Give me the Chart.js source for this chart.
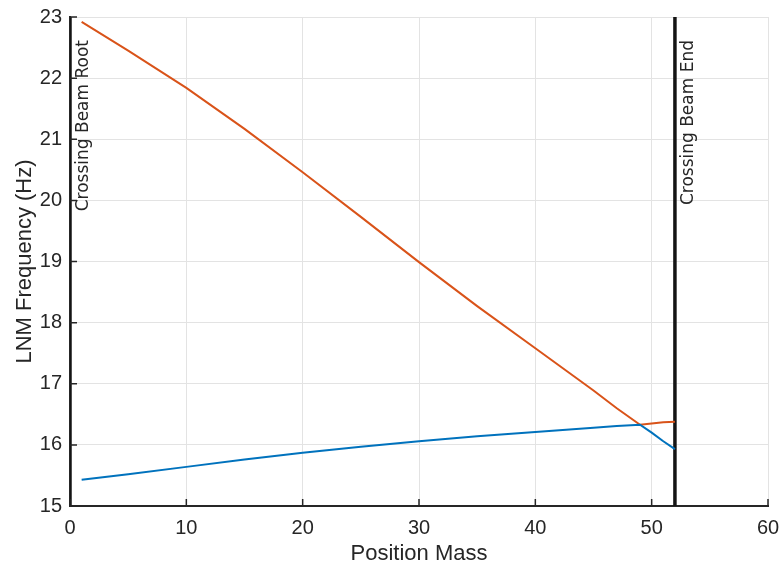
<!DOCTYPE html>
<html>
<head>
<meta charset="utf-8">
<script src="https://cdn.jsdelivr.net/npm/chart.js@4"></script>
<style>
  html, body { margin: 0; padding: 0; background: #fff; }
  #wrap { width: 779px; height: 567px; }
</style>
</head>
<body>
<div id="wrap"><canvas id="lnm"></canvas></div>
<script>
// positions along the beam (mass index)
var positions = [1, 5, 10, 15, 20, 25, 30, 35, 40, 45, 47, 49, 50, 51, 52];
// mode 1 (orange) and mode 2 (blue), Hz
var modeA = [22.92, 22.45, 21.84, 21.17, 20.46, 19.73, 18.99, 18.27, 17.58, 16.89, 16.60, 16.33, 16.35, 16.37, 16.38];
var modeB = [15.43, 15.52, 15.64, 15.76, 15.87, 15.97, 16.06, 16.14, 16.21, 16.28, 16.31, 16.33, 16.20, 16.06, 15.93];
// crossing beam markers
var markerX = [0, 52];
var markerLabels = ["Crossing Beam Root", "Crossing Beam End"];
var yRange = [15, 23];
var xRange = [0, 60];

function pts(xs, ys) {
    return xs.map((x, i) => ({ x: x, y: ys[i] }));
}

var datasets = [
    { data: pts(positions, modeB), borderColor: "#0072BD", borderWidth: 2 },
    { data: pts(positions, modeA), borderColor: "#D95319", borderWidth: 2 }
];
markerX.forEach((mx) => {
    datasets.push({ data: pts([mx, mx], yRange), borderColor: "#141414", borderWidth: 3.5 });
});

// labels next to the vertical lines + inward tick marks
var annotate = {
    id: "annotate",
    afterDatasetsDraw(chart) {
        var ctx = chart.ctx;
        var xs = chart.scales.x, ys = chart.scales.y;
        ctx.save();
        ctx.fillStyle = "#262626";
        ctx.font = "17px 'DejaVu Sans'";
        ctx.textAlign = "right";
        ctx.textBaseline = "top";
        markerX.forEach((mx, i) => {
            ctx.save();
            ctx.translate(xs.getPixelForValue(mx) + 5, ys.getPixelForValue(yRange[1]) + 23);
            ctx.rotate(-Math.PI / 2);
            ctx.fillText(markerLabels[i], 0, 0);
            ctx.restore();
        });
        ctx.strokeStyle = "#262626";
        ctx.lineWidth = 1.5;
        ctx.beginPath();
        xs.ticks.forEach((t) => {
            var px = xs.getPixelForValue(t.value);
            ctx.moveTo(px, ys.bottom);
            ctx.lineTo(px, ys.bottom - 7);
        });
        ys.ticks.forEach((t) => {
            var py = ys.getPixelForValue(t.value);
            ctx.moveTo(xs.left, py);
            ctx.lineTo(xs.left + 7, py);
        });
        ctx.stroke();
        ctx.restore();
    }
};

new Chart(document.getElementById("lnm").getContext("2d"), {
    type: "line",
    data: { datasets: datasets },
    plugins: [annotate],
    options: {
        responsive: true,
        maintainAspectRatio: false,
        animation: false,
        layout: { padding: { top: 17, right: 11, left: 0, bottom: 0 } },
        elements: { point: { radius: 0 }, line: { tension: 0 } },
        plugins: {
            legend: { display: false },
            tooltip: { enabled: false }
        },
        scales: {
            x: {
                type: "linear",
                min: xRange[0],
                max: xRange[1],
                ticks: {
                    stepSize: 10,
                    color: "#262626",
                    padding: 10,
                    font: { family: "'Liberation Sans', Arial", size: 20 }
                },
                grid: { color: "#e3e3e3", drawTicks: false },
                border: { color: "#262626", width: 2 },
                title: {
                    display: true,
                    text: "Position Mass",
                    color: "#262626",
                    padding: { top: 0, bottom: 0 },
                    font: { family: "'Liberation Sans', Arial", size: 22 }
                },
                afterFit(scale) {
                    scale.height = 61;
                    scale.paddingLeft = 0;
                    scale.paddingRight = 0;
                }
            },
            y: {
                min: yRange[0],
                max: yRange[1],
                ticks: {
                    stepSize: 1,
                    color: "#262626",
                    padding: 8,
                    font: { family: "'Liberation Sans', Arial", size: 20 }
                },
                grid: { color: "#e3e3e3", drawTicks: false },
                border: { color: "#262626", width: 2 },
                title: {
                    display: true,
                    text: "LNM Frequency (Hz)",
                    color: "#262626",
                    padding: { top: 12, bottom: 0 },
                    font: { family: "'Liberation Sans', Arial", size: 22 }
                },
                afterFit(scale) {
                    scale.width = 70;
                    scale.paddingTop = 0;
                    scale.paddingBottom = 0;
                }
            }
        }
    }
});
</script>
</body>
</html>
